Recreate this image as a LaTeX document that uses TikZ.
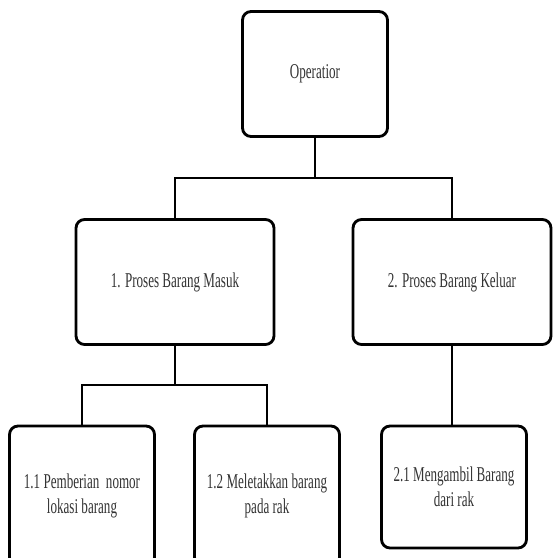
\documentclass[tikz,border=0pt]{standalone}
\usepackage{fontspec}
\setmainfont{Liberation Serif}[FakeStretch=0.62]
\usepackage{tikz}
\usetikzlibrary{calc}

\tikzset{
  proc/.style={draw, line width=1.6pt, rounded corners=0.17cm, align=center,
    text=black!80, font=\fontsize{12}{14.5}\selectfont, inner sep=2pt},
  link/.style={line width=1.3pt},
}

\begin{document}
\begin{tikzpicture}[x=0.02cm,y=-0.02cm]
			\useasboundingbox (0,0) rectangle (552,558);
			% level 0
			\node[proc, minimum width=2.9cm, minimum height=2.5cm] (op) at (315,74) {Operatior};
			% level 1
			\node[proc, minimum width=3.96cm, minimum height=2.5cm] (masuk) at (175,282) {1. Proses Barang Masuk};
			\node[proc, minimum width=3.96cm, minimum height=2.5cm] (keluar) at (452,282) {2. Proses Barang Keluar};
			% level 2
			\node[proc, minimum width=2.9cm, minimum height=2.8cm] (beri) at (82,496) {1.1 Pemberian~ nomor\\lokasi barang};
			\node[proc, minimum width=2.9cm, minimum height=2.8cm] (letak) at (267,496) {1.2 Meletakkan barang\\pada rak};
			\node[proc, minimum width=2.9cm, minimum height=2.44cm] (ambil) at (454,487) {2.1 Mengambil Barang\\dari rak};
			% connectors
			\coordinate (bus1) at (315,178);
			\coordinate (bus2) at (175,385);
			\draw[link] (op) -- (bus1);
			\draw[link] (masuk.north) |- (bus1) -| (keluar.north);
			\draw[link] (masuk) -- (bus2);
			\draw[link] (beri.north) |- (bus2) -| (letak.north);
			\draw[link] (keluar.south) -- (keluar.south |- ambil.north);
		\end{tikzpicture}
\end{document}
